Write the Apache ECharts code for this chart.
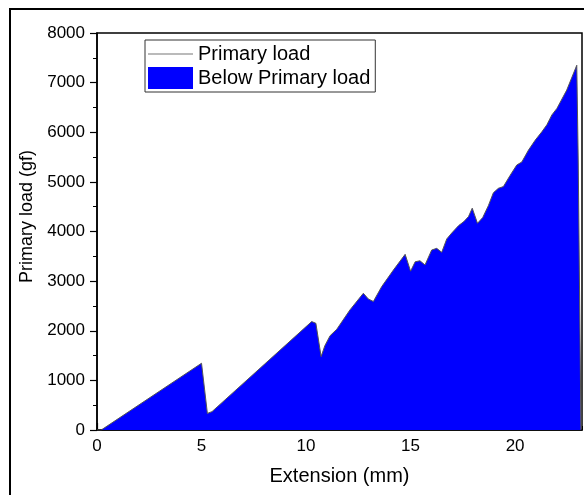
<!DOCTYPE html>
<html>
<head>
<meta charset="utf-8">
<script src="https://cdn.jsdelivr.net/npm/echarts@6/dist/echarts.min.js"></script>
<style>html,body{margin:0;padding:0;background:#fff;}#c{width:584px;height:495px;}</style>
</head>
<body>
<div id="c"></div>
<script>
// Extension (mm)
var extension = [0, 0.2, 5.0, 5.28, 5.5, 10.27, 10.47, 10.72, 10.9, 11.15, 11.47, 12.1, 12.74, 12.98, 13.22, 13.62, 14.18, 14.74, 15.0, 15.22, 15.45, 15.69, 16.01, 16.25, 16.49, 16.73, 16.97, 17.3, 17.55, 17.77, 17.95, 18.2, 18.45, 18.72, 18.96, 19.2, 19.44, 19.76, 20.08, 20.32, 20.64, 20.96, 21.28, 21.52, 21.76, 22.0, 22.47, 22.95, 23.02, 23.15];
// Primary load (gf)
var load = [0, 0, 1345, 335, 370, 2185, 2150, 1480, 1700, 1900, 2030, 2420, 2755, 2640, 2590, 2890, 3224, 3540, 3200, 3390, 3410, 3325, 3627, 3660, 3580, 3850, 3970, 4120, 4200, 4300, 4470, 4165, 4280, 4520, 4780, 4870, 4905, 5130, 5340, 5400, 5640, 5840, 6010, 6150, 6350, 6480, 6850, 7350, 5400, 0];
var seriesNames = ['Primary load', 'Below Primary load'];
var xTitle = 'Extension (mm)';
var yTitle = 'Primary load (gf)';

var pts = extension.map(function (x, i) { return [x, load[i]]; });
var font = 'Arial, "Liberation Sans", sans-serif';

var chart = echarts.init(document.getElementById('c'), null, {renderer: 'canvas'});
chart.setOption({
  animation: false,
  backgroundColor: '#fff',
  graphic: [{
    type: 'rect', z: 100, silent: true,
    shape: {x: 10, y: 9, width: 600, height: 520},
    style: {fill: 'none', stroke: '#000', lineWidth: 2}
  }],
  grid: {left: 97, top: 33, right: 2, bottom: 65, show: true, borderColor: '#000', borderWidth: 1.5, backgroundColor: 'transparent'},
  legend: {
    left: 145, top: 40, orient: 'vertical',
    padding: [4, 5, 3, 3], itemGap: 3, itemWidth: 45, itemHeight: 22,
    borderColor: '#333', borderWidth: 1,
    symbolKeepAspect: true,
    textStyle: {fontSize: 20, color: '#000', fontFamily: font},
    data: [
      {name: seriesNames[0], icon: 'path://M0,0H45V1H0Z', itemStyle: {color: '#777'}},
      {name: seriesNames[1], icon: 'rect'}
    ]
  },
  xAxis: [{
    type: 'value', min: 0, max: 23.2, interval: 5,
    name: xTitle, nameLocation: 'middle', nameGap: 36,
    nameTextStyle: {fontSize: 20, color: '#000', fontFamily: font},
    axisLine: {show: true, onZero: false, lineStyle: {color: '#000', width: 1.5}},
    axisTick: {show: true, inside: true, length: 7, lineStyle: {color: '#000', width: 1.2}},
    axisLabel: {fontSize: 17, color: '#000', fontFamily: font, margin: 8, showMaxLabel: false},
    splitLine: {show: false}
  }, {
    type: 'value', min: 0, max: 23.2, interval: 2.5, position: 'bottom',
    axisLine: {show: false},
    axisTick: {show: true, inside: true, length: 4, lineStyle: {color: '#000', width: 1}},
    axisLabel: {show: false},
    splitLine: {show: false}
  }],
  yAxis: {
    type: 'value', min: 0, max: 8000, interval: 1000,
    name: yTitle, nameLocation: 'middle', nameGap: 39,
    nameTextStyle: {fontSize: 18, color: '#000', fontFamily: font, padding: [0, 0, 0, 30]},
    axisLine: {show: true, lineStyle: {color: '#000', width: 1.5}},
    axisTick: {show: true, inside: false, length: 7, lineStyle: {color: '#000', width: 1.2}},
    minorTick: {show: true, splitNumber: 2, length: 4, lineStyle: {color: '#000', width: 1}},
    axisLabel: {fontSize: 17, color: '#000', fontFamily: font, margin: 12,
      formatter: function (v) { return String(v); }},
    splitLine: {show: false}
  },
  series: [{
    name: seriesNames[1], type: 'line', data: pts, symbol: 'none', z: 2,
    itemStyle: {color: '#0000ff'},
    lineStyle: {width: 0, color: '#0000ff'},
    areaStyle: {color: '#0000ff', opacity: 1}
  }, {
    name: seriesNames[0], type: 'line', data: pts, symbol: 'none', z: 3,
    itemStyle: {color: '#777'},
    lineStyle: {width: 1, color: '#555'}
  }]
});
</script>
</body>
</html>
